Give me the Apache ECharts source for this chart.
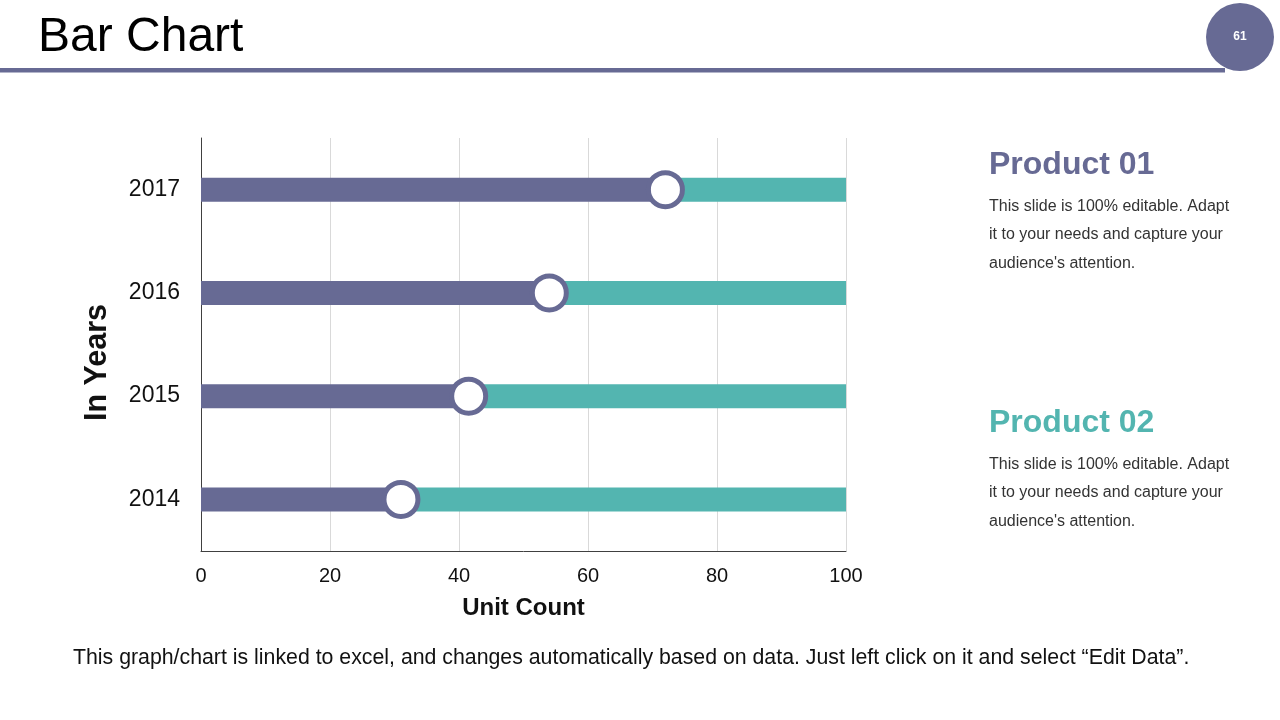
<!DOCTYPE html>
<html>
<head>
<meta charset="utf-8">
<script src="https://cdn.jsdelivr.net/npm/echarts@6/dist/echarts.min.js"></script>
<style>
html,body{margin:0;padding:0;background:#fff;}
#c{width:1280px;height:720px;}
</style>
</head>
<body>
<div id="c"></div>
<script>
var years = ['2014', '2015', '2016', '2017'];
var product01 = [31, 41.5, 54, 72];
var product02 = [69, 58.5, 46, 28];
var xTicks = [0, 20, 40, 60, 80, 100];

var PURPLE = '#676a94';
var TEAL = '#53b5b0';
var FONT = '"Liberation Sans", Arial, sans-serif';

var chart = echarts.init(document.getElementById('c'));
var dots = product01.map(function (v, i) { return [v, years[i]]; });

chart.setOption({
  animation: false,
  grid: { left: 201, right: 434, top: 138, bottom: 169 },
  xAxis: {
    type: 'value', min: xTicks[0], max: xTicks[xTicks.length - 1], interval: 20,
    name: 'Unit Count', nameLocation: 'middle', nameGap: 45,
    nameTextStyle: { fontFamily: FONT, fontSize: 24, fontWeight: 'bold', color: '#111' },
    axisLine: { show: true, lineStyle: { color: '#404040', width: 1 } },
    axisTick: { show: false },
    axisLabel: { fontFamily: FONT, fontSize: 20, color: '#111', margin: 15 },
    splitLine: { show: true, lineStyle: { color: '#d9d9d9', width: 1 } }
  },
  yAxis: {
    type: 'category', data: years,
    name: 'In Years', nameLocation: 'middle', nameGap: 88, nameRotate: 90,
    nameTextStyle: { fontFamily: FONT, fontSize: 30.5, fontWeight: 'bold', color: '#111', padding: [0, 36, 0, 0] },
    axisLine: { show: true, lineStyle: { color: '#404040', width: 1 } },
    axisTick: { show: false },
    axisLabel: { fontFamily: FONT, fontSize: 23, color: '#111', margin: 21, padding: [4, 0, 0, 0] },
    splitLine: { show: false }
  },
  series: [
    { name: 'Product 01', type: 'bar', stack: 't', data: product01, barWidth: 24,
      itemStyle: { color: PURPLE }, z: 2 },
    { name: 'Product 02', type: 'bar', stack: 't', data: product02, barWidth: 24,
      itemStyle: { color: TEAL }, z: 2 },
    { type: 'scatter', data: dots, symbol: 'circle', symbolSize: 34,
      itemStyle: { color: '#fff', borderColor: PURPLE, borderWidth: 5, opacity: 1 }, z: 5 }
  ],
  graphic: [
    { type: 'text', left: 38, top: 14, style: { text: 'Bar Chart', fontFamily: FONT, fontSize: 48, fill: '#000' } },
    { type: 'rect', shape: { x: 0, y: 68, width: 1225, height: 4.5 }, style: { fill: PURPLE } },
    { type: 'circle', shape: { cx: 1240, cy: 37, r: 34 }, style: { fill: PURPLE } },
    { type: 'text', x: 1240, y: 37, style: { text: '61', fontFamily: FONT, fontSize: 12, fontWeight: 'bold', fill: '#fff', align: 'center', verticalAlign: 'middle' } },

    { type: 'text', left: 989, top: 149, style: { text: 'Product 01', fontFamily: FONT, fontSize: 32, fontWeight: 'bold', fill: PURPLE } },
    { type: 'text', left: 989, top: 192, style: { text: 'This slide is 100% editable. Adapt\nit to your needs and capture your\naudience\'s attention.', fontFamily: FONT, fontSize: 16, lineHeight: 28.5, fill: '#333' } },

    { type: 'text', left: 989, top: 407, style: { text: 'Product 02', fontFamily: FONT, fontSize: 32, fontWeight: 'bold', fill: TEAL } },
    { type: 'text', left: 989, top: 450, style: { text: 'This slide is 100% editable. Adapt\nit to your needs and capture your\naudience\'s attention.', fontFamily: FONT, fontSize: 16, lineHeight: 28.5, fill: '#333' } },

    { type: 'text', left: 73, top: 648, style: { text: 'This graph/chart is linked to excel, and changes automatically based on data. Just left click on it and select \u201cEdit Data\u201d.', fontFamily: FONT, fontSize: 21.3, fill: '#111' } }
  ]
});
</script>
</body>
</html>
